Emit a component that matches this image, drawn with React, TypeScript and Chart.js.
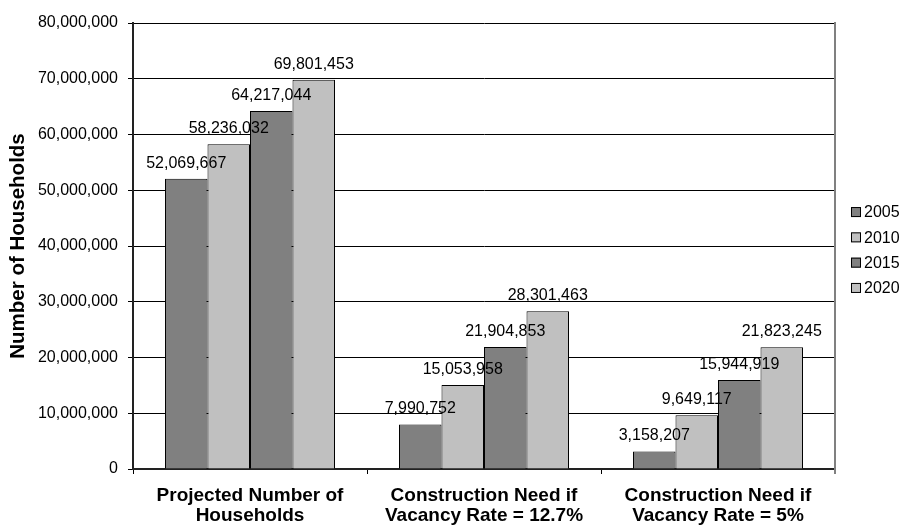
import React, { useEffect, useRef } from "react";
import { Chart, registerables } from "chart.js";

Chart.register(...registerables);

const categories: string[][] = [
  ["Projected Number of", "Households"],
  ["Construction Need if", "Vacancy Rate = 12.7%"],
  ["Construction Need if", "Vacancy Rate = 5%"],
];
const seriesLabels = ["2005", "2010", "2015", "2020"];
const values2005 = [52069667, 7990752, 3158207];
const values2010 = [58236032, 15053958, 9649117];
const values2015 = [64217044, 21904853, 15944919];
const values2020 = [69801453, 28301463, 21823245];
const seriesColors = ["#808080", "#C0C0C0", "#808080", "#C0C0C0"];
const yTitle = "Number of Households";
const yMin = 0;
const yMax = 80000000;
const yStep = 10000000;

const FONT = "'Liberation Sans', Arial, sans-serif";
const fmt = (v: number) => v.toLocaleString("en-US");

const dataLabelPlugin = {
  id: "dataLabels",
  afterDatasetsDraw(chart: any) {
    const ctx = chart.ctx;
    ctx.save();
    ctx.font = `16px ${FONT}`;
    ctx.fillStyle = "#000";
    ctx.textAlign = "center";
    ctx.textBaseline = "middle";
    chart.data.datasets.forEach((ds: any, i: number) => {
      const meta = chart.getDatasetMeta(i);
      meta.data.forEach((el: any, j: number) => {
        ctx.fillText(fmt(ds.data[j]), el.x, el.y - 15.5);
      });
    });
    ctx.restore();
  },
};

const frameLegendPlugin = {
  id: "frameLegend",
  afterDraw(chart: any) {
    const ctx = chart.ctx;
    const a = chart.chartArea;
    ctx.save();
    ctx.strokeStyle = "#808080";
    ctx.lineWidth = 2;
    ctx.beginPath();
    ctx.moveTo(a.right, a.top - 1);
    ctx.lineTo(a.right, a.bottom + 5);
    ctx.stroke();
    const n = chart.data.datasets.length;
    const spacing = 25.3;
    const cy = (a.top + a.bottom) / 2 + 4;
    ctx.font = `16px ${FONT}`;
    ctx.textBaseline = "middle";
    ctx.textAlign = "left";
    chart.data.datasets.forEach((ds: any, i: number) => {
      const y = cy + (i - (n - 1) / 2) * spacing;
      const bx = a.right + 16;
      ctx.fillStyle = ds.backgroundColor;
      ctx.fillRect(bx, y - 5, 10, 10);
      ctx.strokeStyle = "#000";
      ctx.lineWidth = 1;
      ctx.strokeRect(bx + 0.5, y - 4.5, 9, 9);
      ctx.fillStyle = "#000";
      ctx.fillText(ds.label, bx + 13, y + 1);
    });
    ctx.restore();
  },
};

export default function App() {
  const ref = useRef<HTMLCanvasElement | null>(null);
  useEffect(() => {
    if (!ref.current) return;
    Chart.defaults.font.family = FONT;
    const allValues = [values2005, values2010, values2015, values2020];
    const chart = new Chart(ref.current, {
      type: "bar",
      data: {
        labels: categories,
        datasets: seriesLabels.map((label, i) => ({
          label,
          data: allValues[i],
          backgroundColor: seriesColors[i],
          borderColor: "#000",
          borderWidth: 1,
          barPercentage: 1,
          categoryPercentage: 0.7265,
        })),
      },
      options: {
        animation: false,
        responsive: true,
        maintainAspectRatio: false,
        layout: { padding: { top: 23, right: 67, left: 0, bottom: 0 } },
        plugins: {
          legend: { display: false },
          tooltip: { enabled: false },
        },
        scales: {
          x: {
            grid: {
              drawOnChartArea: false,
              drawTicks: true,
              tickLength: 5,
              color: "#000",
            },
            border: { color: "#222", width: 2 },
            ticks: {
              color: "#000",
              padding: 12,
              maxRotation: 0,
              autoSkip: false,
              font: { size: 19, weight: "bold", lineHeight: 1.06 },
            },
            afterFit(scale: any) {
              scale.height = 58;
            },
          },
          y: {
            min: yMin,
            max: yMax,
            ticks: {
              stepSize: yStep,
              color: "#000",
              padding: 10,
              font: { size: 16 },
              callback: (v: any) => fmt(Number(v)),
            },
            grid: {
              color: "#000",
              lineWidth: 1,
              tickLength: 5,
              drawTicks: true,
            },
            border: { color: "#222", width: 2 },
            title: {
              display: true,
              text: yTitle,
              color: "#000",
              font: { size: 20.5, weight: "bold" },
              padding: { top: 6, bottom: 0 },
            },
            afterFit(scale: any) {
              scale.width = 133;
            },
          },
        },
      },
      plugins: [dataLabelPlugin, frameLegendPlugin],
    });
    return () => chart.destroy();
  }, []);
  return (
    <div style={{ position: "fixed", left: 0, top: 0, width: 902, height: 527, background: "#fff" }}>
      <canvas ref={ref} />
    </div>
  );
}
